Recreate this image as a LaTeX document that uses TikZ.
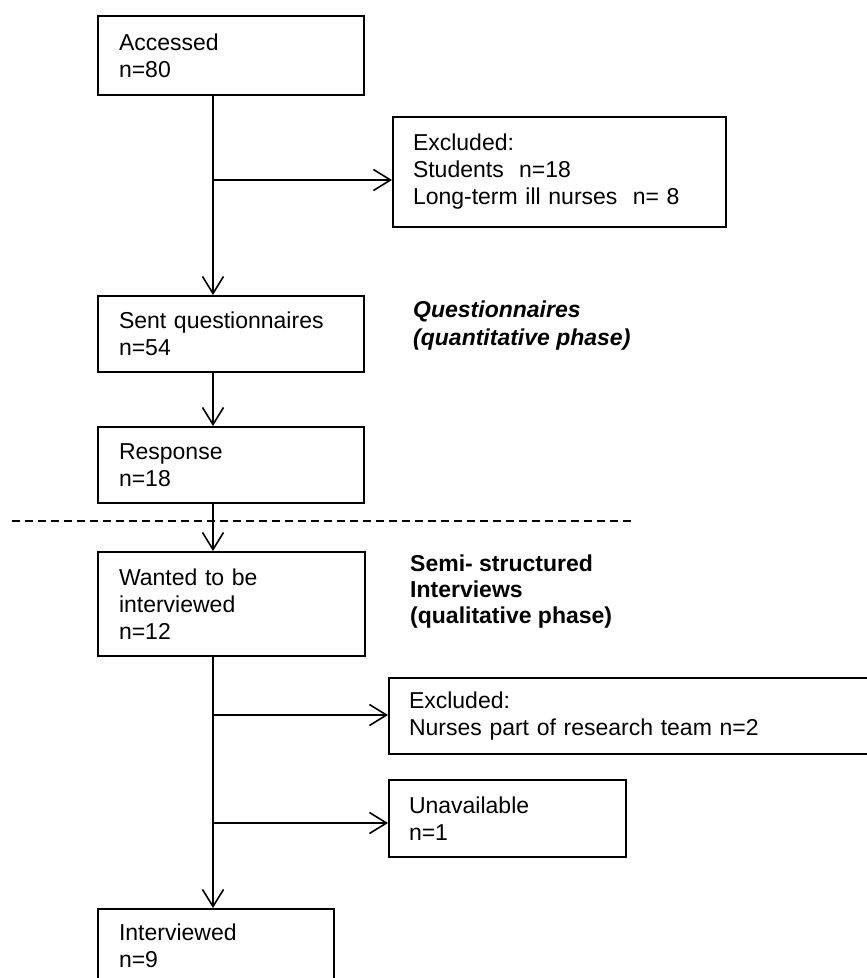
\documentclass[tikz,border=0pt]{standalone}
\usepackage{fontspec}
\setmainfont{Liberation Sans}
\usetikzlibrary{arrows.meta}

\begin{document}
\begin{tikzpicture}[x=1pt, y=-1pt,
        box_style/.style={draw=black, line width=2pt, anchor=north west, align=left, inner xsep=21pt, inner ysep=0pt, font=\fontsize{23}{27}\selectfont},
        side_box_style/.style={box_style, inner xsep=20pt},
        phase_style/.style={anchor=north west, align=left, inner sep=0pt, font=\fontsize{23}{26}\selectfont\bfseries},
        arrow_style/.style={draw=black, line width=1.6pt, -{Straight Barb[length=17pt, width=21pt]}},
        divider_style/.style={draw=black, line width=1.3pt, dash pattern=on 8pt off 5pt}]

        \useasboundingbox (0,0) rectangle (867,978);

        % main column
        \node [box_style, text width=224pt, minimum height=79pt](accessed) at (97,15) {Accessed\\n=80};
        \node [box_style, text width=224pt, minimum height=76pt](sent) at (97,295) {Sent questionnaires\\n=54};
        \node [box_style, text width=224pt, minimum height=76pt](response) at (97,426) {Response\\n=18};
        \node [box_style, text width=225pt, minimum height=104pt](wanted) at (97,551) {Wanted to be\\interviewed\\n=12};
        \node [box_style, text width=194pt, minimum height=73pt](interviewed) at (97,908) {Interviewed\\n=9};

        % side boxes
        \node [side_box_style, text width=293pt, minimum height=110pt](excluded1) at (392,116) {Excluded:\\Students\ \ n=18\\Long-term ill nurses\ \ n= 8};
        \node [side_box_style, text width=440pt, minimum height=76pt](excluded2) at (388,677) {Excluded:\\Nurses part of research team n=2};
        \node [side_box_style, text width=197pt, minimum height=77pt](unavailable) at (388,779) {Unavailable\\n=1};

        % phase labels
        \node [phase_style, font=\fontsize{23}{28}\selectfont\bfseries\itshape](quant) at (413,301) {Questionnaires\\(quantitative phase)};
        \node [phase_style](qual) at (410,555) {Semi- structured\\Interviews\\(qualitative phase)};

        \coordinate (spine) at (213,0);
        \coordinate (fork1) at (213,180);
        \coordinate (fork2) at (213,715);
        \coordinate (fork3) at (213,823);

        \draw [divider_style] (12,521) -- (633,521);

        \draw [arrow_style] (accessed.south -| spine) -- (sent.north -| spine);
        \draw [arrow_style] (sent.south -| spine) -- (response.north -| spine);
        \draw [arrow_style] (response.south -| spine) -- (wanted.north -| spine);
        \draw [arrow_style] (wanted.south -| spine) -- (interviewed.north -| spine);
        \draw [arrow_style] (fork1) -- (fork1 -| excluded1.west);
        \draw [arrow_style] (fork2) -- (fork2 -| excluded2.west);
        \draw [arrow_style] (fork3) -- (fork3 -| unavailable.west);
\end{tikzpicture}
\end{document}
